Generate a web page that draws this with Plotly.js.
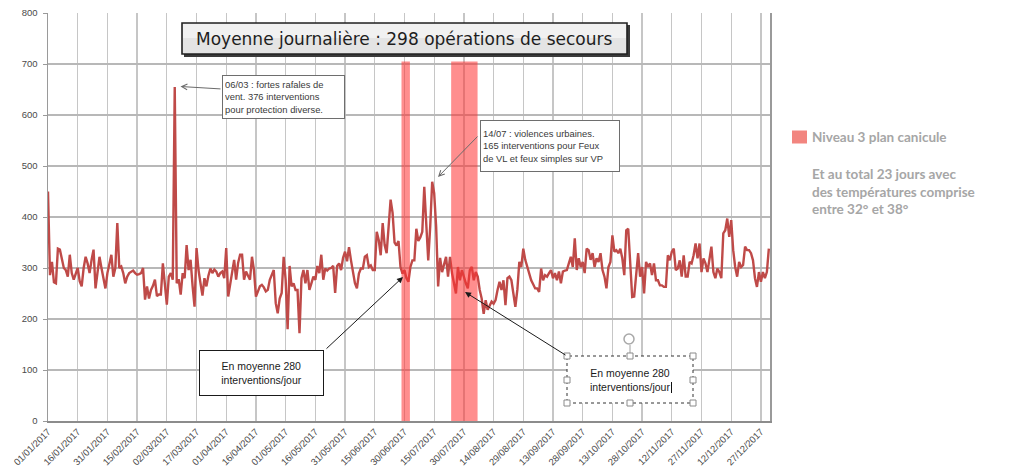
<!DOCTYPE html>
<html>
<head>
<meta charset="utf-8">
<script src="https://cdn.plot.ly/plotly-3.0.1.min.js"></script>
<style>
  html, body { margin: 0; padding: 0; background: #ffffff; }
  #chart { width: 1013px; height: 475px; }
</style>
</head>
<body>
<div id="chart"></div>
<script>
// Daily number of rescue operations in 2017, one array per month
const jan = [450, 286, 312, 272, 270, 338, 336, 318, 300, 296, 283, 326, 290, 277, 288, 300, 274, 264, 300, 322, 309, 290, 316, 336, 260, 296, 322, 300, 283, 260, 290];
const feb = [309, 326, 283, 300, 388, 300, 303, 290, 270, 283, 290, 292, 295, 290, 287, 288, 290, 300, 238, 264, 240, 257, 265, 277, 245, 248, 248, 309];
const mar = [260, 228, 283, 290, 277, 655, 270, 278, 248, 290, 280, 345, 296, 316, 265, 224, 339, 296, 270, 246, 280, 264, 285, 299, 290, 297, 293, 283, 290, 293, 280];
const apr = [339, 244, 270, 287, 316, 277, 310, 326, 326, 277, 293, 285, 277, 322, 296, 244, 255, 264, 267, 262, 254, 257, 277, 285, 296, 231, 211, 240, 251, 322];
const may = [277, 180, 304, 264, 270, 257, 257, 172, 280, 296, 270, 296, 257, 270, 283, 277, 304, 290, 326, 277, 299, 295, 299, 300, 304, 251, 304, 309, 296, 320, 332];
const jun = [313, 341, 315, 290, 270, 260, 289, 299, 299, 322, 325, 302, 305, 296, 296, 371, 355, 325, 388, 345, 329, 381, 434, 408, 350, 344, 353, 302, 289, 296];
const jul = [280, 273, 302, 315, 315, 377, 353, 360, 371, 459, 380, 315, 381, 469, 447, 381, 264, 320, 292, 305, 322, 283, 322, 290, 270, 250, 302, 276, 296, 280, 270];
const aug = [260, 296, 302, 276, 292, 283, 257, 240, 210, 237, 218, 225, 234, 230, 237, 257, 273, 257, 276, 227, 280, 283, 276, 250, 224, 257, 312, 302, 338, 316, 302];
const sep = [292, 276, 268, 260, 260, 253, 299, 276, 286, 283, 290, 296, 280, 290, 276, 293, 270, 293, 295, 296, 309, 322, 302, 358, 296, 319, 302, 312, 290, 338];
const oct = [335, 316, 329, 302, 319, 312, 329, 296, 283, 260, 302, 312, 364, 332, 335, 329, 338, 319, 286, 374, 377, 296, 243, 244, 283, 329, 283, 302, 250, 312, 302];
const nov = [309, 286, 309, 276, 276, 266, 266, 263, 263, 325, 315, 332, 338, 296, 299, 315, 283, 325, 283, 283, 312, 309, 325, 348, 319, 348, 292, 319, 309, 292];
const dec = [319, 342, 292, 280, 299, 292, 280, 368, 374, 397, 361, 394, 335, 302, 283, 312, 302, 306, 342, 335, 335, 329, 315, 280, 263, 292, 273, 292, 280, 292, 338];

// Date labels of the horizontal axis (every 15 days)
const tickLabels = ['01/01/2017', '16/01/2017', '31/01/2017', '15/02/2017', '02/03/2017', '17/03/2017',
  '01/04/2017', '16/04/2017', '01/05/2017', '16/05/2017', '31/05/2017', '15/06/2017', '30/06/2017',
  '15/07/2017', '30/07/2017', '14/08/2017', '29/08/2017', '13/09/2017', '28/09/2017', '13/10/2017',
  '28/10/2017', '12/11/2017', '27/11/2017', '12/12/2017', '27/12/2017'];

// Heat-wave alert (niveau 3) periods
const caniculeStart = ['2017-06-28 12:00', '2017-07-23 14:00'];
const caniculeEnd   = ['2017-07-02 18:00', '2017-08-05 22:00'];
const caniculeTop = 705;

const pad = n => String(n).padStart(2, '0');
const months = [jan, feb, mar, apr, may, jun, jul, aug, sep, oct, nov, dec];
const dates = [];
const values = [];
months.forEach((arr, m) => arr.forEach((v, i) => {
  dates.push(`2017-${pad(m + 1)}-${pad(i + 1)}`);
  values.push(v);
}));
const tickVals = tickLabels.map(t => { const [d, m, y] = t.split('/'); return `${y}-${m}-${d}`; });

// plot area in page pixels
const L = 48, R = 243, T = 13, B = 54, W = 1013, H = 475;
const PW = W - L - R, PH = H - T - B;
const X = p => (p - L) / PW;
const Y = p => (H - B - p) / PH;

const trace = {
  type: 'scatter', mode: 'lines',
  x: dates, y: values,
  line: { color: '#bf4a48', width: 2.4 },
  hoverinfo: 'x+y'
};

const shapes = [];
// heat-wave bands, translucent over the curve
caniculeStart.forEach((s, i) => shapes.push({
  type: 'rect', xref: 'x', yref: 'y', x0: s, x1: caniculeEnd[i], y0: 0, y1: caniculeTop,
  fillcolor: 'rgb(255,50,50)', opacity: 0.55, line: { width: 0 }, layer: 'above'
}));
// title box: shadow, body, frame
shapes.push({ type: 'rect', xref: 'paper', yref: 'paper', x0: X(184), x1: X(630), y0: Y(57), y1: Y(25),
  fillcolor: '#3a3a3a', line: { width: 0 }, layer: 'above' });
shapes.push({ type: 'rect', xref: 'paper', yref: 'paper', x0: X(182), x1: X(627), y0: Y(54), y1: Y(23),
  fillcolor: '#e4e4e4', line: { color: '#222222', width: 1.6 }, layer: 'above' });
shapes.push({ type: 'rect', xref: 'paper', yref: 'paper', x0: X(183), x1: X(626), y0: Y(38), y1: Y(24),
  fillcolor: '#f1f1f1', line: { width: 0 }, layer: 'above' });
// selected text box: dashed frame, handles, rotation knob, caret
shapes.push({ type: 'rect', xref: 'paper', yref: 'paper', x0: X(567), x1: X(693), y0: Y(403), y1: Y(356),
  fillcolor: '#ffffff', line: { color: '#333333', width: 1, dash: 'dot' }, layer: 'above' });
shapes.push({ type: 'line', xref: 'paper', yref: 'paper', x0: X(630), x1: X(630), y0: Y(356), y1: Y(345),
  line: { color: '#a0a0a0', width: 1 }, layer: 'above' });
shapes.push({ type: 'circle', xref: 'paper', yref: 'paper', x0: X(624), x1: X(634), y0: Y(344), y1: Y(334),
  fillcolor: '#ffffff', line: { color: '#a8a8a8', width: 1.5 }, layer: 'above' });
[[567, 356], [630, 356], [693, 356], [567, 380], [693, 380], [567, 403], [630, 403], [693, 403]].forEach(([hx, hy]) =>
  shapes.push({ type: 'rect', xref: 'paper', yref: 'paper', x0: X(hx - 3), x1: X(hx + 3), y0: Y(hy + 3), y1: Y(hy - 3),
    fillcolor: '#ffffff', line: { color: '#8a8a8a', width: 1 }, layer: 'above' }));
shapes.push({ type: 'line', xref: 'paper', yref: 'paper', x0: X(671.5), x1: X(671.5), y0: Y(393), y1: Y(382),
  line: { color: '#111111', width: 1 }, layer: 'above' });
// legend swatch
shapes.push({ type: 'rect', xref: 'paper', yref: 'paper', x0: X(792), x1: X(807), y0: Y(143.5), y1: Y(130.5),
  fillcolor: '#f2857f', line: { width: 0 }, layer: 'above' });

const boxFont = { family: 'Liberation Sans, Arial, sans-serif', size: 9.4, color: '#3a3a3a' };
const avgFont = { family: 'Liberation Sans, Arial, sans-serif', size: 10.5, color: '#1a1a1a' };
const legFont = { family: 'Lato, Open Sans, sans-serif', size: 13.5, color: '#a6a6a6' };

const arrow = (tx, ty, sx, sy, color, head, size) => ({
  xref: 'paper', yref: 'paper', x: X(tx), y: Y(ty), ax: sx - tx, ay: sy - ty,
  text: '', showarrow: true, arrowcolor: color, arrowwidth: 1, arrowhead: head, arrowsize: size, standoff: 0
});

const annotations = [
  { xref: 'paper', yref: 'paper', x: X(404), y: Y(39), xanchor: 'center', yanchor: 'middle', showarrow: false,
    text: 'Moyenne journalière : 298 opérations de secours',
    font: { family: 'DejaVu Sans, Verdana, sans-serif', size: 17, color: '#1e1e1e' } },

  arrow(180.5, 86.5, 222, 89, '#6a6a6a', 5, 1.1),
  { xref: 'paper', yref: 'paper', x: X(283.5), y: Y(97), xanchor: 'center', yanchor: 'middle', showarrow: false,
    text: '06/03 : fortes rafales de<br>vent. 376 interventions<br>pour protection diverse.',
    align: 'left', font: boxFont, bgcolor: '#ffffff', bordercolor: '#6e6e6e', borderwidth: 1, borderpad: 2,
    width: 117, height: 38 },

  arrow(438, 177, 479, 135, '#6a6a6a', 5, 1.1),
  { xref: 'paper', yref: 'paper', x: X(550), y: Y(146), xanchor: 'center', yanchor: 'middle', showarrow: false,
    text: '14/07 : violences urbaines.<br>165 interventions pour Feux<br>de VL et feux simples sur VP',
    align: 'left', font: boxFont, bgcolor: '#ffffff', bordercolor: '#6e6e6e', borderwidth: 1, borderpad: 2,
    width: 134, height: 46 },

  arrow(403, 277, 325, 350, '#1a1a1a', 2, 1.2),
  { xref: 'paper', yref: 'paper', x: X(261.5), y: Y(373), xanchor: 'center', yanchor: 'middle', showarrow: false,
    text: 'En moyenne 280<br>interventions/jour', align: 'center', font: avgFont,
    bgcolor: '#ffffff', bordercolor: '#1a1a1a', borderwidth: 1, borderpad: 2, width: 119, height: 40 },

  arrow(465, 292, 567, 356, '#1a1a1a', 2, 1.2),
  { xref: 'paper', yref: 'paper', x: X(630), y: Y(380), xanchor: 'center', yanchor: 'middle', showarrow: false,
    text: 'En moyenne 280<br>interventions/jour', align: 'center', font: avgFont },

  { xref: 'paper', yref: 'paper', x: X(810), y: Y(137), xanchor: 'left', yanchor: 'middle', showarrow: false,
    text: '<b>Niveau 3 plan canicule</b>', align: 'left', font: legFont },
  { xref: 'paper', yref: 'paper', x: X(810), y: Y(191), xanchor: 'left', yanchor: 'middle', showarrow: false,
    text: '<b>Et au total 23 jours avec<br>des températures comprise<br>entre 32° et 38°</b>', align: 'left', font: legFont }
];

const layout = {
  width: W, height: H,
  margin: { l: L, r: R, t: T, b: B, pad: 0 },
  paper_bgcolor: '#ffffff', plot_bgcolor: '#ffffff',
  showlegend: false,
  xaxis: {
    type: 'date', range: ['2017-01-01', '2017-12-31 14:00'],
    tickmode: 'array', tickvals: tickVals, ticktext: tickLabels, tickangle: -45,
    tickfont: { family: 'Liberation Sans, Arial, sans-serif', size: 9.5, color: '#4a4a4a' },
    showgrid: true, gridcolor: '#c6c6c6', gridwidth: 1.3,
    showline: true, linecolor: '#8c8c8c', linewidth: 1.5,
    ticks: '', zeroline: false, fixedrange: true
  },
  yaxis: {
    range: [0, 800], dtick: 100, tick0: 0,
    tickfont: { family: 'Liberation Sans, Arial, sans-serif', size: 9.5, color: '#4a4a4a' },
    showgrid: true, gridcolor: '#b8b8b8', gridwidth: 1.6,
    showline: true, mirror: true, linecolor: '#9a9a9a', linewidth: 1.5,
    ticks: 'outside', ticklen: 4, tickcolor: '#9a9a9a', ticklabelstandoff: 3,
    zeroline: false, fixedrange: true
  },
  shapes: shapes,
  annotations: annotations
};

Plotly.newPlot('chart', [trace], layout, { displayModeBar: false, staticPlot: true });
</script>
</body>
</html>
